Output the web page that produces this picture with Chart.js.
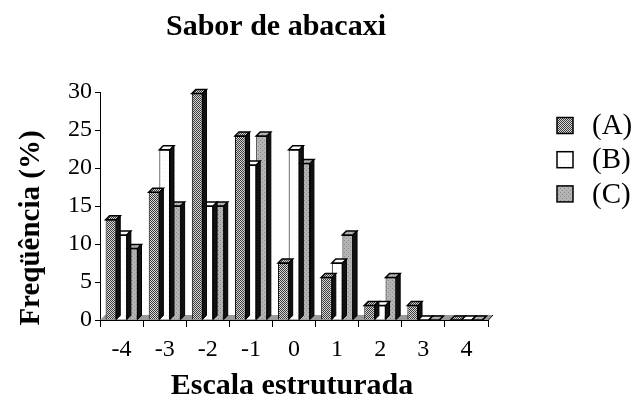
<!DOCTYPE html>
<html>
<head>
<meta charset="utf-8">
<script src="https://cdn.jsdelivr.net/npm/chart.js@4"></script>
<style>
  html, body { margin: 0; padding: 0; background: #fff; }
</style>
</head>
<body>
<canvas id="chart" width="637" height="416"></canvas>
<script>
// data
var categories = ['-4', '-3', '-2', '-1', '0', '1', '2', '3', '4'];
var serieA = [13.2, 16.8, 29.8, 24.2, 7.5, 5.6, 1.9, 1.9, 0];
var serieB = [11.2, 22.4, 15.0, 20.4, 22.4, 7.5, 1.9, 0, 0];
var serieC = [9.4, 15.0, 15.0, 24.2, 20.6, 11.2, 5.6, 0, 0];
var seriesNames = ['(A)', '(B)', '(C)'];
var yTicks = [0, 5, 10, 15, 20, 25, 30];

var serif = "'Liberation Serif', 'Times New Roman', serif";
var depth = 4;

// little bitmap fills like the old excel patterns
function makePattern(kind) {
  var c = document.createElement('canvas');
  c.width = 4; c.height = 4;
  var g = c.getContext('2d');
  if (kind === 'A') {
    g.fillStyle = '#d8d8d8'; g.fillRect(0, 0, 4, 4);
    g.fillStyle = '#3a3a3a';
    for (var y = 0; y < 4; y++)
      for (var x = 0; x < 4; x++)
        if ((x + y) % 2 === 0) g.fillRect(x, y, 1, 1);
  } else if (kind === 'B') {
    g.fillStyle = '#ffffff'; g.fillRect(0, 0, 4, 4);
    g.fillStyle = '#f0f0f0'; g.fillRect(0, 0, 1, 1);
  } else {
    g.fillStyle = '#b4b4b4'; g.fillRect(0, 0, 4, 4);
    g.fillStyle = '#8a8a8a';
    g.fillRect(0, 0, 1, 1); g.fillRect(2, 2, 1, 1);
  }
  return g.createPattern(c, 'repeat');
}
var fills = [makePattern('A'), makePattern('B'), makePattern('C')];

// floor under the bars
var floor3d = {
  id: 'floor3d',
  beforeDatasetsDraw: function(chart) {
    var ctx = chart.ctx, a = chart.chartArea;
    ctx.save();
    ctx.fillStyle = '#9a9a9a';
    ctx.beginPath();
    ctx.moveTo(a.left, a.bottom);
    ctx.lineTo(a.left + depth + 1, a.bottom - depth - 1);
    ctx.lineTo(a.right + depth + 1, a.bottom - depth - 1);
    ctx.lineTo(a.right, a.bottom);
    ctx.closePath();
    ctx.fill();
    ctx.strokeStyle = '#000';
    ctx.lineWidth = 1;
    ctx.beginPath();
    ctx.moveTo(a.left, a.bottom + 0.5);
    ctx.lineTo(a.right, a.bottom + 0.5);
    ctx.lineTo(a.right + depth + 1, a.bottom - depth - 1);
    ctx.stroke();
    ctx.restore();
  }
};

// top and side faces, drawn per dataset so the next series hides them
var bars3d = {
  id: 'bars3d',
  afterDatasetDraw: function(chart, args) {
    var ctx = chart.ctx;
    var fill = fills[args.index];
    ctx.save();
    ctx.strokeStyle = '#000';
    args.meta.data.forEach(function(bar) {
      var p = bar.getProps(['x', 'y', 'base', 'width'], true);
      var l = p.x - p.width / 2, r = p.x + p.width / 2, t = p.y, b = p.base;
      ctx.beginPath();
      ctx.moveTo(l, t);
      ctx.lineTo(l + depth, t - depth);
      ctx.lineTo(r + depth, t - depth);
      ctx.lineTo(r, t);
      ctx.closePath();
      ctx.fillStyle = fill;
      ctx.fill();
      ctx.lineWidth = 1.5;
      ctx.stroke();
      ctx.beginPath();
      ctx.moveTo(r, t);
      ctx.lineTo(r + depth, t - depth);
      ctx.lineTo(r + depth, b - depth);
      ctx.lineTo(r, b);
      ctx.closePath();
      ctx.fillStyle = '#111';
      ctx.fill();
      ctx.lineWidth = 1;
      ctx.stroke();
    });
    ctx.restore();
  }
};

// titles and legend placed like the original
var texts = {
  id: 'texts',
  afterDraw: function(chart) {
    var ctx = chart.ctx;
    ctx.save();
    ctx.fillStyle = '#000';
    ctx.textAlign = 'center';
    ctx.textBaseline = 'middle';
    ctx.font = 'bold 30px ' + serif;
    ctx.fillText('Sabor de abacaxi', 276, 27);
    ctx.fillText('Escala estruturada', 292, 386);
    ctx.save();
    ctx.translate(32, 228);
    ctx.rotate(-Math.PI / 2);
    ctx.font = 'bold 29px ' + serif;
    ctx.fillText('Freqüência (%)', 0, 0);
    ctx.restore();

    ctx.textAlign = 'left';
    ctx.font = '29px ' + serif;
    chart.data.datasets.forEach(function(ds, i) {
      var y = 125.5 + i * 34.2;
      ctx.fillStyle = fills[i];
      ctx.fillRect(557, y - 8, 16, 16);
      ctx.strokeStyle = '#000';
      ctx.lineWidth = 1.5;
      ctx.strokeRect(557, y - 8, 16, 16);
      ctx.fillStyle = '#000';
      ctx.fillText(ds.label, 592, y + 1);
    });
    ctx.restore();
  }
};

var ctx = document.getElementById('chart').getContext('2d');
var chart = new Chart(ctx, {
  type: 'bar',
  data: {
    labels: categories,
    datasets: [
      { label: seriesNames[0], data: serieA, backgroundColor: fills[0] },
      { label: seriesNames[1], data: serieB, backgroundColor: fills[1] },
      { label: seriesNames[2], data: serieC, backgroundColor: fills[2] }
    ]
  },
  options: {
    responsive: false,
    animation: false,
    devicePixelRatio: 1,
    layout: { padding: { top: 92, right: 149, left: 0, bottom: 0 } },
    datasets: {
      bar: {
        borderColor: '#000',
        borderWidth: 1,
        barPercentage: 1,
        categoryPercentage: 0.74
      }
    },
    plugins: {
      legend: { display: false },
      title: { display: false },
      tooltip: { enabled: false }
    },
    scales: {
      x: {
        grid: { offset: true, drawOnChartArea: false, color: '#000', tickLength: 7 },
        border: { color: '#000' },
        ticks: { color: '#000', font: { family: serif, size: 24 }, padding: 8, maxRotation: 0 },
        afterFit: function(s) { s.height = 96; }
      },
      y: {
        min: 0,
        max: 30,
        grid: { drawOnChartArea: false, color: '#000', tickLength: 5 },
        border: { color: '#000' },
        ticks: { color: '#000', font: { family: serif, size: 24 }, padding: 3 },
        afterBuildTicks: function(s) {
          s.ticks = yTicks.map(function(v) { return { value: v }; });
        },
        afterFit: function(s) { s.width = 100; }
      }
    }
  },
  plugins: [floor3d, bars3d, texts]
});
</script>
</body>
</html>
